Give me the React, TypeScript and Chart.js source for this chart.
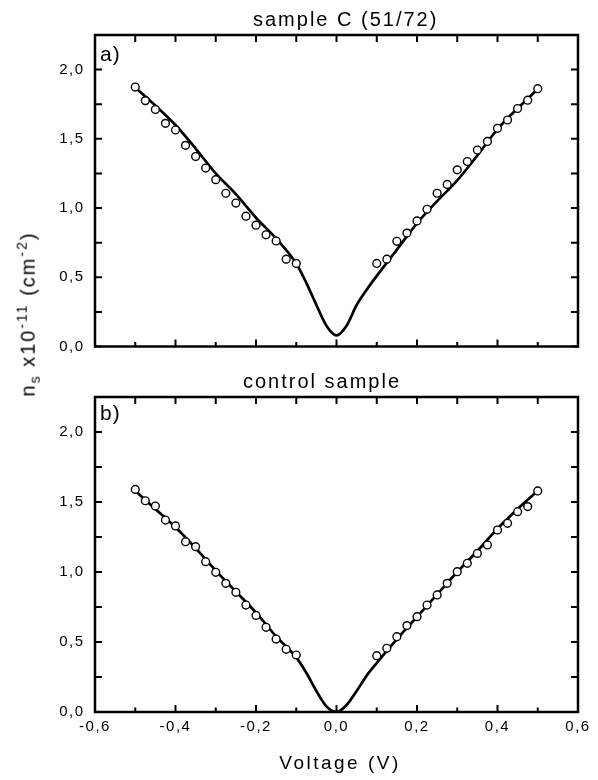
import React, { useEffect, useRef } from "react";
import { Chart, registerables } from "chart.js";

Chart.register(...registerables);

const FONT = "'Liberation Sans', Arimo, Arial, sans-serif";

// ---------- data ----------
const pointVoltages = [
  -0.5, -0.475, -0.45, -0.425, -0.4, -0.375, -0.35, -0.325, -0.3, -0.275, -0.25, -0.225, -0.2, -0.175, -0.15, -0.125, -0.1,
  0.1, 0.125, 0.15, 0.175, 0.2, 0.225, 0.25, 0.275, 0.3, 0.325, 0.35, 0.375, 0.4, 0.425, 0.45, 0.475, 0.5,
];
const sampleCPoints = [
  1.874, 1.776, 1.712, 1.612, 1.564, 1.453, 1.372, 1.289, 1.205, 1.107, 1.036, 0.941, 0.876, 0.807, 0.762, 0.631, 0.6,
  0.6, 0.631, 0.76, 0.819, 0.907, 0.991, 1.107, 1.171, 1.276, 1.336, 1.419, 1.481, 1.576, 1.636, 1.719, 1.779, 1.862,
];
const controlPoints = [
  1.59, 1.509, 1.471, 1.371, 1.329, 1.216, 1.181, 1.074, 0.998, 0.919, 0.855, 0.764, 0.69, 0.605, 0.521, 0.448, 0.407,
  0.402, 0.455, 0.538, 0.617, 0.681, 0.764, 0.836, 0.919, 1.002, 1.062, 1.133, 1.193, 1.3, 1.348, 1.431, 1.467, 1.579,
];
const fitVoltages = [
  -0.5, -0.45, -0.4, -0.35, -0.3, -0.25, -0.2, -0.15, -0.1, -0.075, -0.05, -0.025, 0,
  0.025, 0.05, 0.075, 0.1, 0.15, 0.2, 0.25, 0.3, 0.35, 0.4, 0.45, 0.5,
];
const sampleCFit = [
  1.87, 1.74, 1.6, 1.43, 1.25, 1.1, 0.93, 0.78, 0.6, 0.46, 0.3, 0.15, 0.08,
  0.15, 0.3, 0.41, 0.51, 0.7, 0.89, 1.05, 1.2, 1.38, 1.57, 1.72, 1.86,
];
const controlFit = [
  1.58, 1.45, 1.32, 1.17, 1.01, 0.86, 0.71, 0.54, 0.39, 0.28, 0.15, 0.04, 0.0,
  0.05, 0.15, 0.26, 0.35, 0.52, 0.68, 0.84, 1.0, 1.15, 1.31, 1.45, 1.58,
];
const xTickValues = [-0.6, -0.4, -0.2, 0, 0.2, 0.4, 0.6];
const yTickValues = [0, 0.5, 1, 1.5, 2];
const xRange = [-0.6, 0.6];
const yRange = [0, 2.25];

function fmt(v: number) {
  let r = Math.round(v * 10) / 10;
  if (Math.abs(r) < 1e-9) r = 0;
  return r.toFixed(1).replace(".", ",");
}

const framePlugin = {
  id: "frame",
  beforeDraw(chart: any) {
    chart.ctx.letterSpacing = "1.5px";
  },
  afterDatasetsDraw(chart: any, _args: any, opts: any) {
    const { ctx, chartArea: a, scales } = chart;
    ctx.save();
    ctx.letterSpacing = "0px";
    ctx.strokeStyle = "#000";
    ctx.lineWidth = 2;
    ctx.beginPath();
    for (let i = -6; i <= 6; i++) {
      const v = i / 10;
      const px = scales.x.getPixelForValue(v);
      const major = i % 2 === 0;
      ctx.moveTo(px, a.bottom);
      ctx.lineTo(px, a.bottom - (major ? 7 : 4.5));
      ctx.moveTo(px, a.top);
      ctx.lineTo(px, a.top + 7);
    }
    for (let i = 0; i <= 9; i++) {
      const v = i * 0.25;
      const py = scales.y.getPixelForValue(v);
      ctx.moveTo(a.left, py);
      ctx.lineTo(a.left + 7, py);
      ctx.moveTo(a.right, py);
      ctx.lineTo(a.right - 7, py);
    }
    ctx.stroke();
    ctx.lineWidth = 2.5;
    ctx.strokeRect(a.left, a.top, a.right - a.left, a.bottom - a.top);

    ctx.fillStyle = "#000";
    ctx.textAlign = "left";
    ctx.textBaseline = "alphabetic";
    ctx.letterSpacing = "2px";
    ctx.font = `20px ${FONT}`;
    ctx.fillText(opts.title, opts.titleX, opts.titleY);
    ctx.font = `21px ${FONT}`;
    ctx.letterSpacing = "1px";
    ctx.fillText(opts.label, opts.labelX, opts.labelY);
    if (opts.xTitle) {
      ctx.textAlign = "center";
      ctx.letterSpacing = "2.5px";
      ctx.font = `19px ${FONT}`;
      ctx.fillText(opts.xTitle, opts.xTitleX, opts.xTitleY);
    }
    ctx.restore();
  },
};

type PanelProps = {
  top: number;
  height: number;
  padTop: number;
  padBottom: number;
  xAxisHeight: number;
  showXLabels: boolean;
  points: number[];
  fit: number[];
  frame: any;
};

function Panel(p: PanelProps) {
  const ref = useRef<HTMLCanvasElement | null>(null);
  useEffect(() => {
    const canvas = ref.current!;
    const chart = new Chart(canvas, {
      type: "scatter",
      data: {
        datasets: [
          {
            data: pointVoltages.map((x, i) => ({ x, y: p.points[i] })),
            showLine: false,
            pointRadius: 3.9,
            pointBackgroundColor: "#fff",
            pointBorderColor: "#000",
            pointBorderWidth: 1.4,
          },
          {
            data: fitVoltages.map((x, i) => ({ x, y: p.fit[i] })),
            showLine: true,
            pointRadius: 0,
            borderColor: "#000",
            borderWidth: 2.7,
            cubicInterpolationMode: "monotone",
            fill: false,
          },
        ],
      },
      options: {
        animation: false,
        responsive: false,
        events: [],
        layout: { padding: { top: p.padTop, right: 20, bottom: p.padBottom, left: 0 } },
        plugins: {
          legend: { display: false },
          tooltip: { enabled: false },
          frame: p.frame,
        } as any,
        scales: {
          x: {
            type: "linear",
            min: xRange[0],
            max: xRange[1],
            grid: { display: false, drawTicks: false },
            border: { display: false },
            afterBuildTicks: (s: any) => {
              s.ticks = xTickValues.map((v) => ({ value: v }));
            },
            afterFit: (s: any) => {
              s.height = p.xAxisHeight;
            },
            ticks: {
              display: p.showXLabels,
              padding: 6,
              color: "#000",
              font: { family: FONT, size: 15 },
              maxRotation: 0,
              autoSkip: false,
              callback: (v: any) => fmt(Number(v)),
            },
          },
          y: {
            type: "linear",
            min: yRange[0],
            max: yRange[1],
            grid: { display: false, drawTicks: false },
            border: { display: false },
            afterBuildTicks: (s: any) => {
              s.ticks = yTickValues.map((v) => ({ value: v }));
            },
            afterFit: (s: any) => {
              s.width = 95;
            },
            ticks: {
              padding: 10.5,
              color: "#000",
              font: { family: FONT, size: 15 },
              autoSkip: false,
              callback: (v: any) => fmt(Number(v)),
            },
          },
        },
      },
      plugins: [framePlugin as any],
    });
    return () => chart.destroy();
  }, []);
  return (
    <canvas
      ref={ref}
      width={598}
      height={p.height}
      style={{ position: "absolute", left: 0, top: p.top, display: "block" }}
    />
  );
}

export default function App() {
  return (
    <div
      style={{
        position: "absolute",
        left: 0,
        top: 0,
        width: 598,
        height: 780,
        background: "#fff",
        overflow: "hidden",
      }}
    >
      <Panel
        top={0}
        height={366}
        padTop={35}
        padBottom={15}
        xAxisHeight={0}
        showXLabels={false}
        points={sampleCPoints}
        fit={sampleCFit}
        frame={{ title: "sample C (51/72)", titleX: 253, titleY: 26, label: "a)", labelX: 100, labelY: 61 }}
      />
      <Panel
        top={366}
        height={414}
        padTop={31}
        padBottom={0}
        xAxisHeight={68}
        showXLabels={true}
        points={controlPoints}
        fit={controlFit}
        frame={{
          title: "control sample",
          titleX: 243,
          titleY: 22,
          label: "b)",
          labelX: 100,
          labelY: 54,
          xTitle: "Voltage (V)",
          xTitleX: 340,
          xTitleY: 403,
        }}
      />
      <div
        style={{
          position: "absolute",
          left: 28,
          top: 314,
          transform: "translate(-50%, -50%) rotate(-90deg)",
          fontFamily: FONT,
          fontSize: 20,
          letterSpacing: "2px",
          whiteSpace: "nowrap",
          lineHeight: 1,
          color: "#000",
        }}
      >
        n<sub style={{ fontSize: "0.7em", verticalAlign: "-0.35em" }}>s</sub> x10
        <sup style={{ fontSize: "0.7em", verticalAlign: "0.55em" }}>-11</sup> (cm
        <sup style={{ fontSize: "0.7em", verticalAlign: "0.55em" }}>-2</sup>)
      </div>
    </div>
  );
}
